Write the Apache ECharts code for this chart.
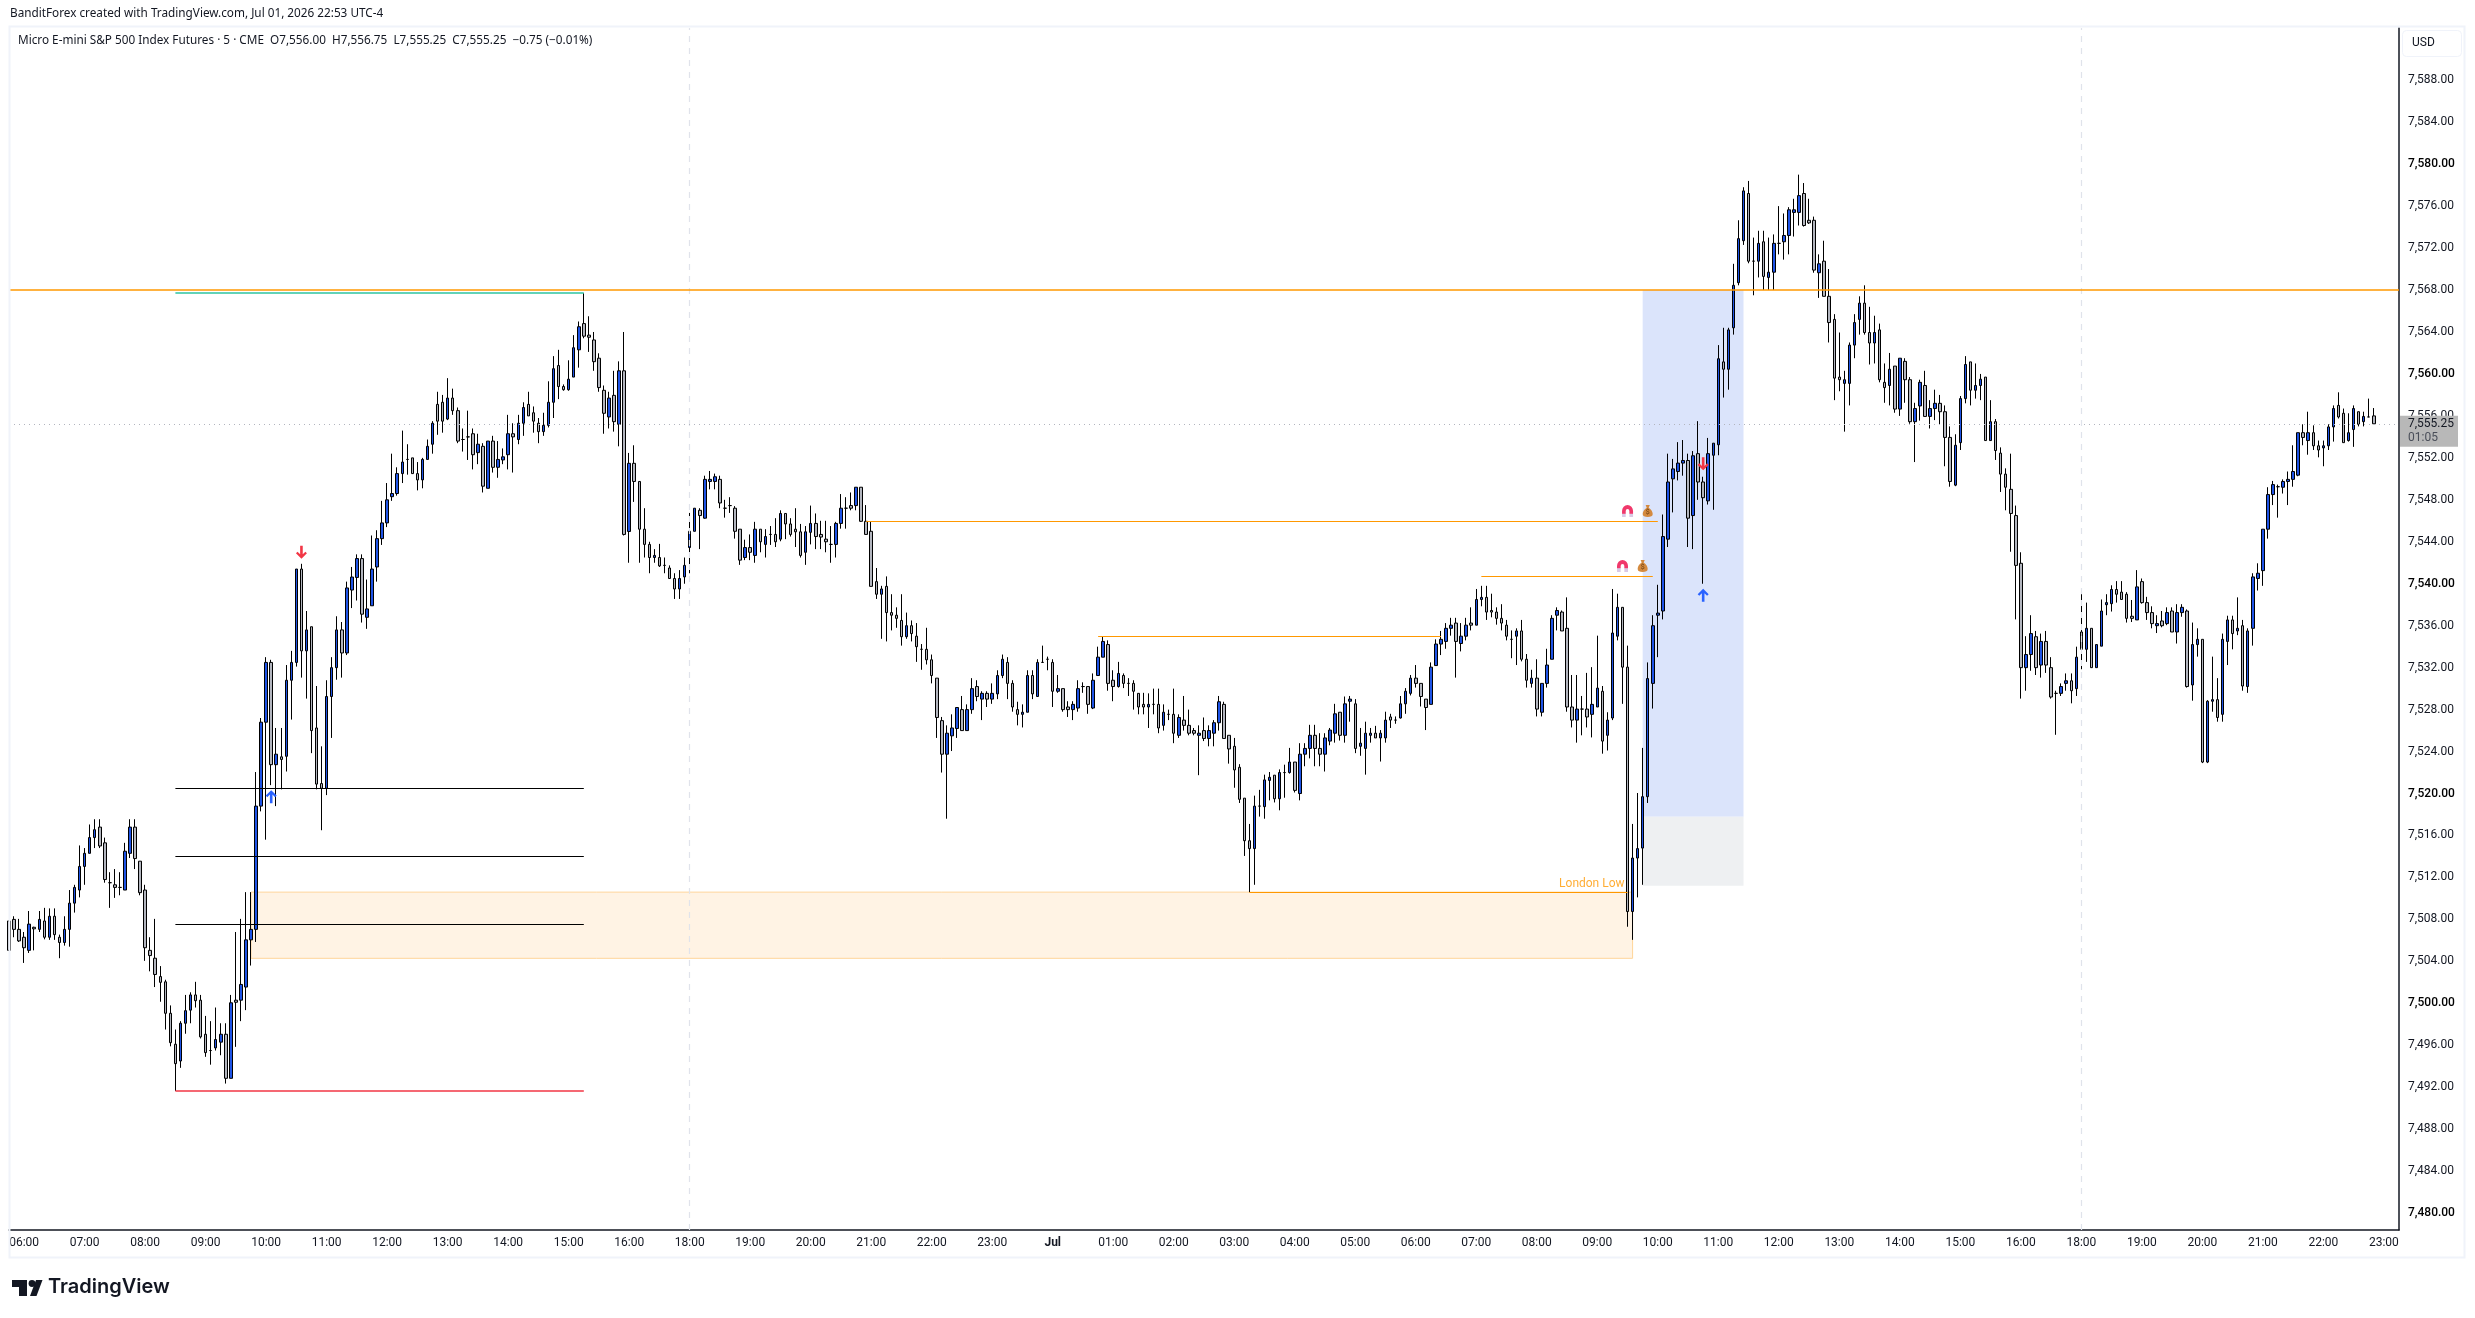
<!DOCTYPE html>
<html>
<head>
<meta charset="utf-8">
<title>MES 5m</title>
<script src="https://cdn.jsdelivr.net/npm/echarts@6/dist/echarts.min.js"></script>
<style>
html,body{margin:0;padding:0;background:#fff;}
#main{width:2475px;height:1318px;}
</style>
</head>
<body>
<div id="main"></div>
<script>
// rows are [open, close, high, low]
var barsMorning = [
[7507.85,7505.05,7507.85,7505.05],[7508,7507.05,7508.3,7506.3],[7507.05,7505.95,7508.05,7505.85],[7506.3,7505.3,7506.8,7503.85],
[7505.05,7507.55,7508.8,7504.8],[7507.25,7507.1,7507.3,7505.05],[7507.05,7508,7508.8,7506.8],[7507.85,7506.3,7509.1,7506.1],
[7506.3,7508.3,7509.05,7506.05],[7508.3,7506.55,7509.05,7506.05],[7506.3,7505.8,7506.55,7504.3],[7505.8,7507.05,7508.3,7505.5],
[7507.05,7509.55,7510.8,7505.4],[7509.55,7511.05,7511.3,7508.65],[7510.8,7513.05,7515.05,7510.1],[7513.05,7514.3,7514.8,7511.3],
[7514.3,7515.8,7517.05,7514.3],[7515.8,7516.55,7517.55,7514.8],[7516.8,7515,7517.55,7514.8],[7515.3,7511.8,7515.8,7511.5],
[7511.5,7511.5,7512.5,7509.1],[7511.3,7511.05,7512.8,7510.05],[7511.05,7511.05,7512.5,7510.3],[7510.8,7514.5,7515.3,7510.8],
[7514.3,7516.8,7517.55,7513.85],[7516.8,7513.8,7517.55,7512.8],[7513.55,7510.55,7513.55,7510.3],[7510.8,7505.3,7511.3,7504.05],
[7505.05,7504.55,7506.3,7503.05],[7504.3,7502.75,7508.05,7501.55],[7502.55,7502,7503.55,7500.15],[7502.05,7499.05,7502.25,7497.5],
[7499.05,7496.25,7499.8,7495.9],[7496.1,7494.25,7497.5,7491.65],[7494.5,7498.1,7498.3,7493.85],[7498.1,7499.3,7500.8,7497.1],
[7499.35,7500.8,7501.05,7498.1],[7500.8,7500.25,7502.05,7499.6],[7500.3,7496.8,7500.8,7496.65],[7497.05,7495.3,7498.8,7494.9],
[7495.5,7495.5,7498.3,7494.15],[7495.75,7496.55,7499.6,7495.5],[7496.3,7497.05,7498.1,7495.05],[7497.05,7492.85,7498.1,7492.35],
[7492.85,7500.05,7500.8,7492.85],[7500.3,7500.1,7506.8,7495.85],[7500.3,7501.8,7508.05,7498.3],[7501.55,7506.05,7510.6,7499.35],
[7506.05,7507.05,7510.6,7503.6],[7507.05,7518.8,7522.05,7505.85],[7518.8,7526.8,7527.2,7518.3],[7526.8,7532.5,7533,7515.6],
[7532.5,7522.75,7532.75,7520.8],[7522.75,7523.75,7526.25,7518.8],[7523.5,7523.25,7526.25,7520.4],[7523.55,7530.8,7532.25,7522.1],
[7530.8,7532.5,7533.6,7527.05],[7532.5,7541.4,7541.4,7532.1],[7541.4,7533.6,7541.9,7531.05],[7533.6,7535.6,7537.4,7529.05]
];
var barsMidday = [
[7535.9,7526,7535.9,7523.85],[7526.25,7520.9,7530.25,7520.4],[7520.95,7520.5,7524.5,7516.5],[7520.5,7529.25,7530.8,7519.85],
[7529.25,7532,7533,7525.3],[7532,7535.6,7536.9,7530.85],[7535.6,7533.4,7536.35,7531.05],[7533.4,7539.6,7540.2,7533.2],
[7539.4,7540.64,7541.6,7537.68],[7540.6,7542.4,7542.8,7538.4],[7542.4,7537.1,7542.8,7536.3],[7536.8,7537.6,7540.4,7535.7],
[7537.9,7541.4,7544.6,7537.9],[7541.6,7544.3,7545.1,7540.2],[7544.3,7545.8,7547.9,7543.7],[7545.8,7548,7549.6,7545.4],
[7548.3,7548.6,7552.4,7547.9],[7548.6,7550.5,7551.1,7548.4],[7550.5,7551.6,7554.6,7549.6],[7551.85,7551.85,7553.3,7550.4],
[7552,7550.5,7552,7550.5],[7550.5,7549.9,7551.6,7548.9],[7549.9,7551.85,7552,7549.1],[7551.85,7553.1,7553.75,7551.85],
[7553.3,7555.3,7555.5,7552.4],[7557.1,7555.5,7558.3,7554.2],[7557.3,7555.5,7558,7554.4],[7555.7,7557.7,7559.6,7555.6],
[7557.7,7556.5,7558.6,7556.1],[7556.5,7553.6,7556.8,7553.4],[7553.75,7553.75,7554.8,7552.6],[7554,7554,7556.5,7551.8],
[7554.3,7552.3,7554.8,7550.9],[7552.5,7553.3,7554.3,7551.4],[7553.1,7549.3,7553.4,7548.7],[7549.1,7553.6,7553.6,7549.1],
[7553.6,7551.1,7554.1,7550.6],[7551.1,7551.85,7553.6,7550.1],[7551.8,7552.1,7552.9,7551.4],[7552.3,7554.3,7556.1,7550.9],
[7554.3,7554,7555.3,7550.6],[7553.75,7555.3,7556.1,7553.3],[7555.3,7556.8,7557.3,7554.1],[7557.1,7556,7558.3,7556],
[7556.3,7555.5,7556.9,7554.4],[7555.3,7554.5,7555.8,7553.4],[7554.5,7555.1,7556.3,7554.1],[7555.1,7557.3,7559.3,7554.9],
[7557.3,7560.5,7561.7,7555.8],[7560.8,7558.8,7562.3,7557.6],[7558.8,7558.5,7559,7558.4],[7558.5,7559.5,7561.3,7558.4],
[7559.7,7562.5,7563.7,7559.7],[7562.3,7564.5,7565,7560.6],[7564.8,7563.6,7567.7,7563.4],[7563.7,7563.5,7565.5,7562.1],
[7563.24,7561.17,7564,7560.3],[7561.5,7558.7,7561.97,7558.3],[7558.44,7556.25,7558.9,7554.3],[7555.9,7557.7,7558.3,7554.8],
[7557.96,7555.45,7560.3,7554.5],[7555.2,7560.3,7561.2,7553.1]
];
var barsEvening = [
[7560.3,7544.7,7564,7544.6],[7544.98,7551.48,7552.47,7542],[7551.48,7549.75,7553.2,7547.8],[7549.75,7545.2,7549.75,7542],
[7545.2,7543.75,7547.2,7542.5],[7543.75,7542.5,7544,7541],[7542.5,7542.7,7543.3,7542],[7542.5,7541.7,7543.8,7541.6],
[7541.75,7541.75,7542.5,7541],[7541.5,7540.5,7541.75,7540.5],[7540.5,7539.5,7541,7538.55],[7539.5,7540.5,7541.3,7538.55],
[7540.65,7541.75,7542.5,7540],[7543.45,7545,7546.75,7541],[7545,7547.2,7547.2,7545],[7547,7546.5,7547.2,7543.3],
[7546.25,7549.95,7550.3,7546.2],[7549.75,7549.95,7550.75,7549],[7549.75,7550.2,7550.5,7549],[7549.95,7547.7,7550.3,7547.2],
[7547.2,7547.2,7548,7546.3],[7547.45,7547.45,7548.25,7546.75],[7547.2,7545,7547.4,7544.3],[7545.2,7542.25,7545.2,7541.8],
[7542.5,7543.45,7544.2,7542.25],[7543.45,7543,7544.7,7542.25],[7542.7,7545.2,7545.9,7542],[7545.2,7544,7545.2,7543],
[7543.75,7544.5,7545.2,7542.5],[7544.7,7544.7,7545.5,7543.7],[7544.7,7544,7546.25,7543.5],[7544.25,7546.7,7547,7544.05],
[7546.7,7545.7,7546.7,7544.25],[7545.7,7544.7,7546.25,7544.5],[7545.2,7544.95,7547.2,7543.5],[7544.95,7542.7,7545.7,7542.5],
[7543,7544.95,7545.5,7541.8],[7544.9,7545.75,7547.45,7543.75],[7545.75,7544.5,7546.7,7543.3],[7544.7,7544.45,7546,7543.3],
[7544.25,7544,7546,7543],[7543.75,7543.75,7545.5,7542],[7543.75,7545.75,7545.9,7542.5],[7545.75,7547.2,7548.55,7545.25],
[7547.2,7547.2,7548.25,7545.25],[7547.45,7547.2,7548.7,7547],[7547.45,7549.2,7549.2,7547],[7549.2,7545.95,7549.2,7545.9],
[7545.95,7544.7,7547.5,7544.7],[7545,7539.75,7545.95,7539.75],[7540.2,7539,7541.5,7538.55],[7539,7539.5,7539.8,7534.75],
[7539.75,7537.25,7540.7,7534.5],[7537.25,7537,7539,7535.55],[7537,7536.7,7537.75,7535.8],[7536.5,7534.95,7539,7534.1],
[7534.95,7536,7537.25,7534.75],[7536,7535.25,7536.5,7534.5],[7535,7534,7536.25,7532.55],[7533.75,7533.75,7534.25,7531.8],
[7533.75,7532.75,7535.8,7532.3],[7532.75,7531.25,7533.25,7530.5]
];
var barsOvernight = [
[7531,7527.25,7531,7525.3],[7526.95,7523.75,7527.3,7522],[7523.75,7525.75,7526.5,7517.6],[7525.5,7526.25,7527.55,7524.05],
[7526.2,7528.2,7528.2,7525.3],[7528,7526,7529.3,7526],[7526,7528,7528.5,7526],[7528,7530,7531,7527.6],
[7530.2,7529.25,7530.8,7528.8],[7529,7529.55,7529.75,7527],[7529.55,7529,7529.75,7528.25],[7529,7529.55,7530.5,7528.55],
[7529.5,7531.25,7531.75,7529],[7531.25,7532.8,7533.25,7531],[7532.5,7530.5,7533,7529],[7530.5,7528.25,7530.8,7527.8],
[7528,7527.55,7528.75,7526.5],[7527.55,7527.75,7528.5,7526.3],[7527.75,7531.25,7531.75,7527.75],[7531.25,7529.5,7531.75,7529],
[7529.25,7532.5,7532.8,7529.25],[7532.5,7532.5,7534.1,7532.5],[7532.8,7532.8,7533.05,7531.75],[7532.5,7529.75,7532.8,7528.25],
[7529.75,7530,7531.3,7529.6],[7530,7528,7530,7527.8],[7528.25,7528,7528.8,7527.3],[7528,7528.5,7528.8,7527],
[7528.15,7530,7530.8,7527.8],[7530.2,7530.2,7530.6,7529.6],[7530.2,7528.5,7530.2,7527.6],[7528.15,7530.8,7531.45,7528.05],
[7531.25,7533,7534,7531.25],[7533,7534.5,7535,7533],[7534.2,7530.5,7534.6,7529.8],[7530.8,7530.2,7531.75,7528.8],
[7530.2,7531.45,7532.55,7530.1],[7531.25,7530.5,7531.45,7530.05],[7530.5,7530.5,7531,7529.3],[7530.5,7529.75,7530.8,7528],
[7529.55,7528.25,7529.55,7527.55],[7528.5,7528.25,7529.6,7527.55],[7528.25,7528.5,7529.55,7526.25],[7528.5,7528.5,7530,7527.55],
[7528.5,7526.25,7530,7525.75],[7526.5,7527.75,7528.5,7526],[7527.55,7527.55,7528,7527],[7527.55,7525.75,7530,7524.8],
[7525.55,7527.25,7527.55,7525.3],[7527,7526.5,7529.3,7526],[7526.5,7525.75,7528,7525.55],[7526,7525.75,7526.25,7525.55],
[7525.55,7525.75,7526.5,7521.75],[7526,7525.25,7527.25,7525],[7525.25,7526,7526.5,7524.5],[7525.75,7526.75,7527,7524.5],
[7526.75,7528.75,7529.3,7526],[7528.5,7525.25,7528.75,7525.25],[7525.55,7524.25,7525.55,7522.85],[7524.5,7522.25,7525.3,7520.55],
[7522.5,7519.45,7522.8,7519.1]
];
var barsLondon = [
[7519.56,7515.5,7519.56,7514.05],[7515.5,7514.75,7517.1,7510.6],[7514.75,7518.8,7519.8,7511.3],[7518.8,7518.8,7520.35,7517.8],
[7518.75,7521.3,7521.8,7517.6],[7521.25,7521.55,7522.05,7519.35],[7521.75,7519.5,7521.75,7519.15],[7519.5,7522,7522.3,7518.4],
[7522,7522,7522.75,7519.6],[7522,7523,7524.35,7521.9],[7523,7520.3,7523,7520.1],[7520,7523.75,7524.8,7519.35],
[7523.75,7524.3,7524.8,7522.6],[7524.3,7525.55,7526.55,7523.35],[7525.55,7524.3,7526.55,7522.6],[7524.3,7523.75,7525.75,7522.6],
[7523.75,7525.3,7525.75,7522.1],[7525,7526.05,7526.25,7524.6],[7525.75,7527.6,7528.55,7524.85],[7527.75,7525.55,7527.75,7525.05],
[7525.55,7528.55,7529.25,7524.85],[7528.8,7529,7529.3,7526.85],[7528.55,7524.3,7529,7523.85],[7524.5,7524.8,7526.25,7523.6],
[7524.3,7525.75,7526.85,7521.8],[7525.55,7525.75,7526.25,7524.85],[7525.75,7525.3,7526.45,7525.3],[7525.3,7525.75,7526.05,7523.05],
[7525.3,7527,7527.8,7524.85],[7527.3,7527,7527.6,7526.25],[7527,7527,7527.35,7526.65],[7527.2,7528.55,7529.3,7527.15],
[7528.55,7529.75,7530.05,7527.6],[7529.55,7531,7531.3,7529.35],[7531,7530.5,7532.25,7530.1],[7530.5,7529.25,7530.5,7528.3],
[7529,7528.2,7529,7526.05],[7528.5,7532.05,7532.5,7528.5],[7532.2,7534.25,7534.7,7532.2],[7534.25,7534.7,7535.5,7533.2],
[7534.5,7535.75,7536.25,7533.8],[7535.75,7536.05,7536.75,7535.05],[7536.25,7534.5,7536.75,7531.05],[7534.3,7535,7536.25,7533.55],
[7535,7536.05,7536.75,7534.6],[7536.25,7536.05,7537.75,7535.55],[7536.05,7538.5,7539.5,7536.05],[7538.5,7538.7,7539.8,7537.85],
[7538.7,7537.3,7539.8,7536.55],[7537.45,7537.3,7539.05,7536.8],[7537.3,7536.7,7537.75,7536.1],[7536.7,7536.25,7538.05,7535.55],
[7536.05,7535,7536.55,7534.6],[7534.7,7534.7,7535.55,7532.9],[7535,7535.5,7535.75,7532.25],[7535.5,7532.8,7536.55,7532.6],
[7532.8,7530.8,7533.3,7530.1],[7530.5,7531,7531.8,7530.1],[7531,7528.05,7532.8,7527.35],[7527.75,7530.5,7530.5,7527.35],
[7530.5,7532.25,7533.8,7530.1],[7532.8,7536.7,7537,7532.8],[7537,7537.45,7537.75,7535.55],[7537.3,7535.5,7537.45,7535.5],
[7535.75,7528.25,7538.7,7527.8],[7528.25,7527,7531.3,7526.3],[7527,7528.05,7531.3,7524.85],[7528.05,7528.05,7529.3,7525.55],
[7528.05,7527.3,7531.5,7526.3],[7527.55,7528.5,7532.05,7525.35],[7528.25,7530.05,7535.05,7528.25]
];
var barsOpen = [
[7529.75,7525,7530.25,7523.8],[7525.55,7527,7527.75,7524.1],[7527.2,7535.3,7539.5,7527],[7535,7537.75,7539.05,7534.6],
[7537.75,7532.05,7537.75,7528.55],[7532.05,7508.75,7534.1,7507.3],[7508.75,7513.85,7517.1,7506.05],[7513.85,7514.75,7520.05,7510.1],
[7514.8,7519.7,7524.35,7511.3],[7519.7,7530.96,7532.5,7519.1],[7530.5,7536,7537,7528.1],[7537,7537.2,7539.9,7533],
[7537.4,7544.5,7546.6,7536.6],[7544.25,7549.7,7552.4,7543.5],[7550,7550.95,7551.9,7546.8],[7550.7,7551.5,7553.5,7549.85],
[7551.5,7551.75,7553.7,7550.3],[7551.75,7546.25,7552.4,7543.5],[7546.5,7552.2,7552.65,7543.3],[7552.4,7549.7,7555.5,7548],
[7549.7,7548.2,7550.2,7540],[7547.9,7552.4,7553.9,7547.55],[7552.25,7553.4,7553.4,7547.05],[7553.25,7561.45,7562.75,7552.25],
[7561.15,7560.45,7564.4,7557.75],[7560.45,7564.2,7564.4,7558.5],[7564.4,7568.45,7570.5,7563.75],[7568.7,7572.9,7574.65,7568.45],
[7572.7,7577.45,7577.8,7572.3],[7577.2,7570.75,7578.4,7570.55],[7570.75,7570.75,7573,7567.5],[7570.75,7572.45,7573.65,7569.2],
[7572.6,7569.3,7573.65,7568],[7569.2,7569.7,7573,7568],[7569.7,7572.45,7573.3,7568],[7572.45,7572.45,7576,7571.4],
[7572.6,7573.2,7575.3,7570.9],[7573.2,7575.65,7575.9,7571.4],[7575.4,7575.65,7576.7,7573.1],[7575.4,7577,7579,7574.15],
[7577.2,7574.15,7578.2,7574.05],[7574.65,7574.4,7576.7,7574.3],[7574.65,7569.9,7575,7569.65],[7569.65,7570.5,7571.4,7567.25],
[7570.75,7567.4,7572.7,7567.4],[7567.4,7564.9,7570,7563],[7565.2,7559.6,7565.7,7557.5],[7559.7,7559.45,7563.95,7558.35],
[7559.1,7559.45,7560.3,7554.5],[7559.1,7562.75,7563,7557],[7562.75,7564.9,7565.7,7561.5],[7565.2,7566.75,7567.4,7563.75],
[7566.75,7563.95,7568.45,7563.75],[7563.95,7562.95,7566.4,7560.9],[7562.95,7563.95,7565.55,7561],[7564.2,7559.45,7564.8,7559.2],
[7559.2,7558.7,7561,7557.25],[7558.9,7560.45,7562,7557],[7560.75,7556.65,7560.75,7556.3]
];
var barsAfternoon = [
[7556.65,7561.5,7561.5,7556],[7561.2,7559.45,7561.5,7557.25],[7559.45,7555.45,7559.7,7555.25],[7555.45,7556.7,7557.25,7551.6],
[7556.95,7559.2,7559.45,7555.55],[7558.9,7555.95,7560.3,7555.95],[7555.95,7556.7,7557.5,7554.8],[7556.7,7557.2,7558.5,7555.6],
[7557.2,7556.4,7558,7555.2],[7556.4,7553.95,7557,7551.2],[7553.95,7549.75,7555,7549.25],[7549.4,7553.2,7554.25,7549.3],
[7553.45,7557.65,7557.9,7552.75],[7557.65,7560.9,7561.7,7557.2],[7561.15,7558.45,7561.15,7557],[7558.45,7558.9,7561,7557.65],
[7558.9,7559.5,7560,7557.5],[7559.7,7553.65,7559.7,7553.65],[7553.65,7555.45,7557.5,7553.65],[7555.45,7552.7,7555.7,7551.8],
[7552.45,7550.45,7553,7548.75],[7550.45,7549.2,7551,7547],[7549,7546.7,7552.4,7543.05],[7546.5,7541.75,7547.45,7536.6],
[7541.95,7532,7543,7529.05],[7532,7533.25,7535,7529.8],[7533.25,7535.25,7537,7531.7],[7534.95,7532,7535.5,7531.3],
[7532.25,7534.5,7535.25,7531.05],[7534.5,7532.25,7535.5,7531.5],[7532,7529.2,7533,7529.05],[7529.55,7529.55,7529.8,7525.6],
[7529.55,7530.2,7530.5,7529.3],[7530.5,7530.75,7531.45,7529.8],[7530.75,7529.8,7531.45,7528.6],[7530,7533,7534,7529.3]
];
var barsNight = [
[7535.4,7533.75,7539,7531.85],[7533.75,7535.75,7538.2,7532.55],[7535.75,7532,7535.75,7532],[7532,7534.2,7534.2,7532],
[7534.05,7537.4,7538.5,7534.05],[7538,7538.2,7539,7537],[7538.1,7539.45,7539.85,7537.35],[7539.45,7539,7540.25,7538.2],
[7539.2,7538.5,7540.25,7538.5],[7539,7536.7,7539.2,7536.3],[7536.9,7536.7,7538.45,7536.35],[7536.55,7539.7,7541.3,7536.55],
[7540.2,7538.2,7540.5,7538.1],[7538.2,7537.25,7538.75,7536.55],[7537.25,7536.2,7537.85,7535.75],[7536,7536.2,7537,7535.3],
[7536.45,7536,7537.4,7535.85],[7536.2,7537.25,7537.75,7536.05],[7537.4,7535.4,7537.75,7535.4],[7535.4,7537.25,7538.05,7534.3],
[7537.25,7537.75,7538.05,7536.85],[7537.4,7530.2,7537.55,7530.1],[7530.35,7534.2,7536.3,7528.85],[7534.2,7534.7,7535.75,7533.05],
[7534.7,7523,7534.7,7522.9],[7523,7528.8,7528.9,7522.9],[7528.8,7528.95,7533.05,7527.8],[7528.95,7527.25,7531,7526.85],
[7527.55,7534.7,7535.25,7526.85],[7534.5,7536.55,7536.95,7532.25],[7536.55,7535.25,7536.95,7533.75],[7535.5,7535.75,7538.7,7535.1],
[7536,7530.25,7536.55,7529.8],[7530.2,7535.5,7535.75,7529.6],[7535.75,7540.65,7541,7534.1],[7540.5,7541,7541.95,7539.35],
[7541.25,7545.2,7545.2,7539.8],[7545.2,7548.5,7549.2,7544.3],[7548.5,7549.45,7549.8,7547.5],[7549.25,7549.25,7549.45,7546.3],
[7549.2,7549.75,7549.95,7548.6],[7549.75,7549.95,7550.7,7547.5],[7549.95,7550.7,7553.2,7549.25],[7550.35,7554.4,7554.4,7550.25],
[7554.4,7553.95,7555.2,7553.2],[7553.65,7554.4,7556.4,7552.3],[7554.4,7553.15,7555.1,7552.75],[7553.15,7552.75,7553.65,7552.05],
[7552.95,7553.15,7553.65,7551.2],[7553.15,7554.95,7555.2,7552.75],[7554.95,7556.7,7557,7553.55],[7557,7555.9,7558.25,7555.75],
[7556.25,7553.45,7556.7,7553.45],[7553.65,7554.4,7556.25,7553.55],[7554.7,7556.7,7557,7553.05],[7556.4,7555.2,7556.4,7555],
[7555.45,7555.95,7556.4,7555],[7555.9,7555.9,7557.65,7555.9],[7556,7555.25,7556.75,7555.25]
];

var hourLabels = ['06:00','07:00','08:00','09:00','10:00','11:00','12:00','13:00','14:00','15:00','16:00','18:00','19:00','20:00','21:00','22:00','23:00','Jul','01:00','02:00','03:00','04:00','05:00','06:00','07:00','08:00','09:00','10:00','11:00','12:00','13:00','14:00','15:00','16:00','18:00','19:00','20:00','21:00','22:00','23:00'];
var priceTicks = [7480,7484,7488,7492,7496,7500,7504,7508,7512,7516,7520,7524,7528,7532,7536,7540,7544,7548,7552,7556,7560,7564,7568,7572,7576,7580,7584,7588];
var sessionBreaks = [135,411];
var lastPrice = 7555.25;

// levels drawn on top of the price, [fromBar, toBar, price]
var fullLevel = 7568;
var blackLevels = [[33,114,7520.49],[33,114,7514],[33,114,7507.53]];
var redLevels = [[33,114,7491.65]];
var tealLevels = [[33,114,7567.7]];
var orangeLevels = [[170,327,7545.93],[292,326,7540.72],[216,284,7534.97],[246,321,7510.6]];
var londonLow = [321,7510.6];

var upArrows = [[52,7519.7],[336,7538.9]];
var downArrows = [[58,7543],[336,7551.43]];
var magnets = [[321,7546.93],[320,7541.7]];
var moneyBags = [[325,7546.93],[324,7541.7]];

var allBars = barsMorning.concat(barsMidday,barsEvening,barsOvernight,barsLondon,barsOpen,barsAfternoon,barsNight);
var candleData = allBars.map(function(r){ return [r[0],r[1],r[3],r[2]]; });

var slotCount = 475;
var categories = [];
for (var i = 0; i < slotCount; i++) categories.push('');
hourLabels.forEach(function(t,k){ categories[3+k*12] = t; });

function levelLines(list,color,width){
	return list.map(function(l){
		return [{xAxis:l[0],yAxis:l[2],lineStyle:{color:color,width:width,type:'solid'}},{xAxis:l[1],yAxis:l[2]}];
	});
}

var font = 'Roboto';
var textDark = '#131722';
var arrowPath = 'path://M5.5,0 L11,5.4 L9.4,7 L6.8,4.4 L6.8,13 L4.2,13 L4.2,4.4 L1.6,7 L0,5.4 Z';
var magnetPath = 'path://M0,12 L0,6 A6,6 0 0 1 12,6 L12,12 L8,12 L8,6 A2,2 0 0 0 4,6 L4,12 Z';
var bagPath = 'path://M3.5,0 L8.5,0 L7.2,2.8 C10.5,4.6 12,7.4 12,9.4 C12,11.8 9.6,12.5 6,12.5 C2.4,12.5 0,11.8 0,9.4 C0,7.4 1.5,4.6 4.8,2.8 Z';

var myChart = echarts.init(document.getElementById('main'),null,{renderer:'canvas'});
var option = {
	animation:false,
	backgroundColor:'#ffffff',
	grid:{left:9,right:76,top:28,bottom:88},
	xAxis:{
		type:'category',
		data:categories,
		boundaryGap:false,
		axisLine:{lineStyle:{color:textDark,width:1.5}},
		axisTick:{show:false},
		splitLine:{show:false},
		axisLabel:{
			interval:function(i,v){ return v !== ''; },
			hideOverlap:false,
			margin:7,
			fontFamily:font,
			fontSize:12,
			color:textDark,
			formatter:function(v){ return v === 'Jul' ? '{b|Jul}' : v; },
			rich:{b:{fontFamily:font,fontSize:12,fontWeight:'bold',color:textDark}}
		}
	},
	yAxis:{
		type:'value',
		position:'right',
		min:7478.39,
		max:7592.98,
		axisLine:{show:true,lineStyle:{color:textDark,width:1.5}},
		axisTick:{show:false},
		splitLine:{show:false},
		axisLabel:{
			customValues:priceTicks,
			margin:9,
			align:'left',
			fontFamily:font,
			fontSize:12,
			color:textDark,
			formatter:function(v){
				var s = echarts.format.addCommas(v.toFixed(0)) + '.00';
				return v % 20 === 0 ? '{b|'+s+'}' : s;
			},
			rich:{b:{fontFamily:font,fontSize:12,fontWeight:500,color:'#000'}}
		}
	},
	series:[
		{
			// zones and session lines, behind the candles
			type:'line',
			data:[],
			z:1,
			silent:true,
			markArea:{
				silent:true,
				data:[
					[{xAxis:48,yAxis:7510.6,itemStyle:{color:'#fff3e4',borderColor:'#ffd59a',borderWidth:1}},{xAxis:322,yAxis:7504.29}],
					[{xAxis:324,yAxis:7568,itemStyle:{color:'#dbe4fb'}},{xAxis:344,yAxis:7517.78}],
					[{xAxis:324,yAxis:7517.78,itemStyle:{color:'#eef0f2'}},{xAxis:344,yAxis:7511.2}]
				]
			},
			markLine:{
				silent:true,
				symbol:'none',
				label:{show:false},
				data:sessionBreaks.map(function(b){
					return {xAxis:b,lineStyle:{color:'#e0e3eb',width:1.2,type:[6,6]}};
				}).concat([{yAxis:lastPrice,lineStyle:{color:'#b2b5be',width:1,type:[1,4]}}])
			}
		},
		{
			type:'candlestick',
			data:candleData,
			z:2,
			barWidth:3,
			itemStyle:{
				color:'#1e53e5',
				color0:'#b2b5be',
				borderColor:'#000000',
				borderColor0:'#000000',
				borderColorDoji:'#000000',
				borderWidth:1
			}
		},
		{
			// drawn levels over the candles
			type:'line',
			data:[],
			z:3,
			silent:true,
			markLine:{
				silent:true,
				symbol:'none',
				label:{show:false},
				data:[{yAxis:fullLevel,lineStyle:{color:'#ff9800',width:1.5,type:'solid'}}]
					.concat(levelLines(blackLevels,'#000000',1.2))
					.concat(levelLines(redLevels,'#f23645',1.5))
					.concat(levelLines(tealLevels,'#2ec4a0',1.5))
					.concat(levelLines(orangeLevels,'#ff9800',1.2))
			}
		},
		{
			type:'scatter',
			data:upArrows,
			z:4,
			symbol:arrowPath,
			symbolSize:[11,13],
			itemStyle:{color:'#2962ff',opacity:1},
			silent:true
		},
		{
			type:'scatter',
			data:downArrows,
			z:4,
			symbol:arrowPath,
			symbolSize:[11,13],
			symbolRotate:180,
			itemStyle:{color:'#f23645',opacity:1},
			silent:true
		},
		{
			type:'scatter',
			data:magnets,
			z:4,
			symbol:magnetPath,
			symbolSize:[11,12],
			silent:true,
			itemStyle:{opacity:1,color:new echarts.graphic.LinearGradient(0,0,0,1,[
				{offset:0,color:'#f0386b'},{offset:0.7,color:'#f0386b'},{offset:0.72,color:'#d9c9e5'},{offset:1,color:'#d9c9e5'}
			])}
		},
		{
			type:'scatter',
			data:moneyBags,
			z:4,
			symbol:bagPath,
			symbolSize:[10,12],
			silent:true,
			itemStyle:{color:'#d48a3f',opacity:1},
			label:{show:true,position:'inside',offset:[0,1],formatter:'$',fontFamily:font,fontSize:7,color:'#6b3d12'}
		},
		{
			type:'scatter',
			data:[londonLow],
			z:4,
			symbolSize:0,
			silent:true,
			label:{
				show:true,
				position:'left',
				distance:3,
				offset:[0,-8],
				formatter:'London Low',
				fontFamily:font,
				fontSize:12,
				color:'#ff9800'
			}
		}
	],
	graphic:[]
};
myChart.setOption(option);

// things outside the plot, the price tag follows the y scale
var tagY = myChart.convertToPixel({yAxisIndex:0},lastPrice);
myChart.setOption({graphic:[
	{type:'rect',z:50,silent:true,shape:{x:9.5,y:26.5,width:2455,height:1231},style:{fill:'none',stroke:'#f0f3fa',lineWidth:2}},
	{type:'text',z:60,x:10,y:8,style:{text:'BanditForex created with TradingView.com, Jul 01, 2026 22:53 UTC-4',font:'11.75px "Noto Sans"',fill:textDark}},
	{type:'text',z:60,x:18,y:35,style:{text:'Micro E-mini S&P 500 Index Futures · 5 · CME  O7,556.00  H7,556.75  L7,555.25  C7,555.25  −0.75 (−0.01%)',font:'11.75px "Noto Sans"',fill:textDark}},
	{type:'rect',z:60,shape:{x:2402.5,y:30.5,width:59,height:26,r:4},style:{fill:'#fff',stroke:'#f0f3fa',lineWidth:1}},
	{type:'text',z:61,x:2412,y:37,style:{text:'USD',font:'12px Roboto',fill:textDark}},
	{type:'rect',z:60,shape:{x:2400,y:tagY-8,width:58,height:31},style:{fill:'#b8b8b8'}},
	{type:'text',z:61,x:2408,y:tagY-6,style:{text:'7,555.25',font:'12px Roboto',fill:textDark}},
	{type:'text',z:61,x:2408,y:tagY+8,style:{text:'01:05',font:'12px Roboto',fill:'#4a4e59'}},
	{type:'polygon',z:60,shape:{points:[[12,1280],[27,1280],[27,1296],[19,1296],[19,1287],[12,1287]]},style:{fill:textDark}},
	{type:'circle',z:60,shape:{cx:32,cy:1283.5,r:3.4},style:{fill:textDark}},
	{type:'polygon',z:60,shape:{points:[[30,1296],[36.5,1296],[42.5,1280],[36,1280]]},style:{fill:textDark}},
	{type:'text',z:60,x:48,y:1277,style:{text:'TradingView',font:'600 20px Inter',fill:textDark}}
]});
</script>
</body>
</html>
